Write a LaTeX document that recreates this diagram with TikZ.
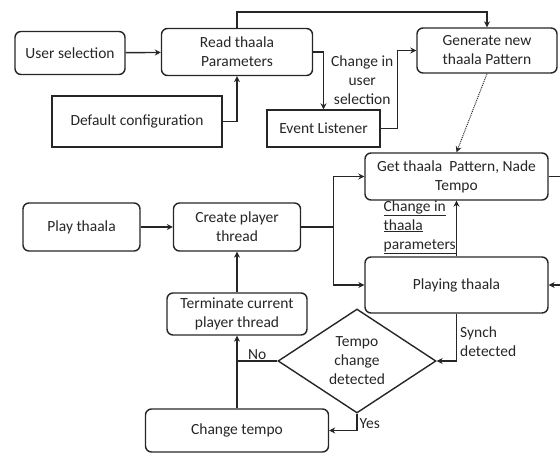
\documentclass[tikz,border=0pt]{standalone}
\usepackage{fontspec}
\setmainfont{Carlito}
\usetikzlibrary{shapes.geometric, arrows.meta, calc}

\begin{document}
\begin{tikzpicture}[x=1pt, y=-1pt, line width=1.4pt,
        font=\fontsize{15.5}{19}\selectfont, color=black!85,
        rbox/.style={draw, rounded corners=6pt, align=center, inner sep=0pt},
        sbox/.style={draw, align=center, inner sep=0pt},
        decision/.style={draw, diamond, align=center, inner sep=0pt, minimum width=158pt, minimum height=84pt},
        flow/.style={-{Stealth[length=6pt, width=6pt]}},
        lbl/.style={align=left, inner sep=1pt}]
    \useasboundingbox (0,0) rectangle (560,455);

    % top part: thaala parameters
    \node[rbox, minimum width=110pt, minimum height=43pt] at (70,53) (user) {User selection};
    \node[rbox, minimum width=151pt, minimum height=47pt] at (237,52) (read) {Read thaala\\Parameters};
    \node[sbox, minimum width=170pt, minimum height=51pt] at (137,121.5) (default) {Default configuration};
    \node[sbox, minimum width=113pt, minimum height=37pt] at (323.5,128.5) (event) {Event Listener};
    \node[rbox, minimum width=140pt, minimum height=45pt] at (487,50.5) (generate) {Generate new\\thaala Pattern};

    % player part
    \node[rbox, minimum width=183pt, minimum height=47pt] at (456.5,176.5) (get) {Get thaala~ Pattern, Nade\\Tempo};
    \node[rbox, minimum width=183pt, minimum height=56pt] at (456.5,285) (playing) {Playing thaala};
    \node[rbox, minimum width=117pt, minimum height=48pt] at (81.5,227) (play) {Play thaala};
    \node[rbox, minimum width=127pt, minimum height=48pt] at (237,227) (create) {Create player\\thread};
    \node[rbox, minimum width=140pt, minimum height=42pt] at (237,314) (terminate) {Terminate current\\player thread};
    \node[decision] at (357,361) (tempo) {Tempo\\change\\detected};
    \node[rbox, minimum width=183pt, minimum height=43pt] at (237,430.5) (change) {Change tempo};

    \coordinate (split) at ($(create.east)+(32,0)$);
    \coordinate (gedge) at (560,176.5);
    \coordinate (pedge) at (560,285);

    \draw[flow] (user) -- (read);
    \draw[flow] (default.east) -| (read.south);
    \draw[flow] (read.north) -- ++(0,-16) -| (generate.north);
    \draw[flow] (read.east) -| node[pos=0.75, lbl, align=center, right, xshift=6pt] {Change in\\user\\selection} (event.north);
    \draw[flow] (event.east) -- ++(17,0) |- (generate.west);
    \draw[flow, line width=1pt, densely dotted] (generate.south) -- (get.north);

    \draw[flow] (play) -- (create);
    \draw (create.east) -- (split);
    \draw[flow] (split) |- (get.west);
    \draw[flow] (split) |- (playing.west);
    \draw[flow] (playing.north) -- (get.south);
    \node[lbl, anchor=west] at (382,227) (chglbl) {\underline{Change in}\\\underline{thaala}\\\underline{parameters}};
    \draw (get.east) -- (gedge);
    \draw[flow] (pedge) -- (playing.east);

    \draw[flow] (playing.south) |- node[pos=0.3, lbl, right, xshift=2pt] {Synch\\detected} (tempo.east);
    \draw (tempo.west) -- node[above, inner sep=1pt] {No} (tempo.west -| terminate.south);
    \draw[flow] (tempo.south) |- node[pos=0.3, lbl, right, xshift=1pt] {Yes} (change.east);
    \draw[flow] (change.north) -- (terminate.south);
    \draw[flow] (terminate.north) -- (create.south);
\end{tikzpicture}
\end{document}
